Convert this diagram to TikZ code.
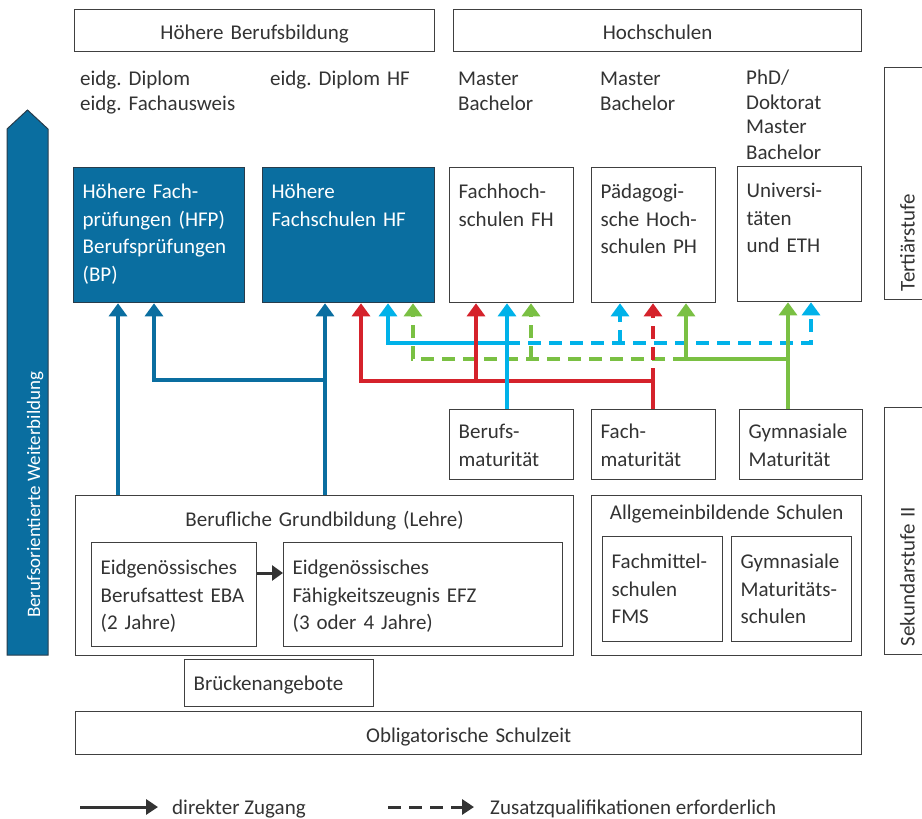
\documentclass[tikz,border=0pt]{standalone}
\usepackage{fontspec}
\setmainfont{Carlito}
\usepackage{xcolor}
\usetikzlibrary{arrows.meta,positioning}

\definecolor{sbfiblue}{RGB}{10,110,160}
\definecolor{sbfidark}{RGB}{40,60,75}
\definecolor{accred}{RGB}{213,34,43}
\definecolor{acccyan}{RGB}{0,178,233}
\definecolor{accgreen}{RGB}{122,192,67}
\definecolor{frame}{RGB}{64,64,64}
\definecolor{ink}{RGB}{51,51,51}

\newcommand{\boxfont}{\fontsize{21pt}{27.5pt}\selectfont}
\newcommand{\labfont}{\fontsize{21pt}{25pt}\selectfont}
\frenchspacing

\begin{document}
\begin{tikzpicture}[
  x=1pt, y=-1pt,
  box/.style = {draw=frame, line width=1.3pt, anchor=north west, align=left,
    inner xsep=9pt, inner ysep=0pt, text=ink, font=\boxfont},
  darkbox/.style = {box, fill=sbfiblue, draw=sbfidark, text=white},
  headbox/.style = {box, align=center},
  stufe/.style = {box, rotate=90, inner xsep=8pt, text height=30pt, text depth=21pt},
  lab/.style = {anchor=base west, align=left, inner sep=0pt, text=ink,
    font=\labfont, text width=170pt},
  zug/.style = {line width=3.3pt, -{Triangle[length=13pt, width=18pt]}},
  zq/.style = {dash pattern=on 13pt off 8pt},
  legarr/.style = {line width=3pt, ink, -{Triangle[length=12pt, width=15pt]}},
]
\useasboundingbox (0,0) rectangle (922,819);
\clip (0,0) rectangle (922,819);

\draw[draw=sbfidark, fill=sbfiblue, line width=1pt]
  (7,655) -- (7,129) -- (27.5,110) -- (48,129) -- (48,655) -- cycle;
\node[rotate=90, anchor=base west, inner sep=0pt, text=white, font=\fontsize{19pt}{23pt}\selectfont]
  (weiter) at (40,618) {Berufsorientierte Weiterbildung};

\node[headbox, text width=342pt, text height=30pt, text depth=12pt] (hbb) at (74,9) {Höhere Berufsbildung};
\node[headbox, text width=390pt, text height=30pt, text depth=12pt] (hs) at (453,9) {Hochschulen};

\node[lab] (lhfp) at (80,85) {eidg. Diplom\\eidg. Fachausweis};
\node[lab] (lhf) at (270,85) {eidg. Diplom HF};
\node[lab] (lfh) at (458,85) {Master\\Bachelor};
\node[lab] (lph) at (600,85) {Master\\Bachelor};
\node[lab] (luni) at (746,84) {PhD/\\Doktorat\\Master\\Bachelor};

\node[darkbox, text width=153pt, text height=31pt, text depth=104pt] (hfp) at (73,167)
  {Höhere Fach-\\prüfungen (HFP)\\Berufsprüfungen\\(BP)};
\node[darkbox, text width=154pt, text height=31pt, text depth=104pt] (hf) at (262,167)
  {Höhere\\Fachschulen HF};
\node[box, text width=106pt, text height=31pt, text depth=104pt] (fh) at (449,167)
  {Fachhoch-\\schulen FH};
\node[box, text width=106pt, text height=31pt, text depth=104pt] (ph) at (591,167)
  {Pädagogi-\\sche Hoch-\\schulen PH};
\node[box, text width=106pt, text height=31pt, text depth=104pt] (uni) at (737,166)
  {Universi-\\täten\\und ETH};

\node[stufe, text width=216pt] (ter) at (884,300) {Tertiärstufe};
\node[stufe, text width=231pt] (sek) at (884,655) {Sekundarstufe II};

\node[box, text width=106pt, text height=29pt, text depth=41pt] (bm) at (449,409) {Berufs-\\maturität};
\node[box, text width=106pt, text height=29pt, text depth=41pt] (fm) at (591,409) {Fach-\\maturität};
\node[box, text width=105pt, text height=29pt, text depth=41pt] (gm) at (739,409) {Gymnasiale\\Maturität};

\node[headbox, text width=480pt, text height=31pt, text depth=129pt] (gb) at (75,495)
  {Berufliche Grundbildung (Lehre)};
\node[box, text width=147pt, text height=32pt, text depth=72pt] (eba) at (91,542)
  {Eidgenössisches\\Berufsattest EBA\\(2 Jahre)};
\node[box, text width=261pt, text height=32pt, text depth=72pt] (efz) at (283,542)
  {Eidgenössisches\\Fähigkeitszeugnis EFZ\\(3 oder 4 Jahre)};

\node[headbox, text width=252pt, text height=24pt, text depth=136pt] (ags) at (591,495)
  {Allgemeinbildende Schulen};
\node[box, text width=102pt, text height=32pt, text depth=73pt] (fms) at (602,536)
  {Fachmittel-\\schulen\\FMS};
\node[box, text width=102pt, text height=32pt, text depth=73pt] (gms) at (731,536)
  {Gymnasiale\\Maturitäts-\\schulen};

\node[box, text width=171pt, text height=31pt, text depth=16pt] (bru) at (184,659) {Brückenangebote};
\node[headbox, text width=768pt, text height=31pt, text depth=12pt] (obl) at (75,711) {Obligatorische Schulzeit};

\draw[line width=3pt, ink, -{Triangle[length=11pt, width=15pt]}] (eba.east |- 0,573) -- (efz.west |- 0,573);

\draw[zug, sbfiblue] (118,0 |- gb.north) -- (118,0 |- hfp.south);
\draw[zug, sbfiblue] (325,0 |- gb.north) -- (325,0 |- hf.south);
\draw[zug, sbfiblue] (325,380) -- (154,380) -- (154,0 |- hfp.south);

\draw[zug, zq, acccyan] (507,343) -- (811,343) -- (811,0 |- uni.south);
\draw[zug, zq, acccyan] (620,343) -- (620,0 |- ph.south);
\draw[zug, zq, accgreen] (686,359) -- (413,359) -- (413,0 |- hf.south);
\draw[zug, zq, accgreen] (531,359) -- (531,0 |- fh.south);
\draw[zug, zq, accred] (653,381) -- (653,0 |- ph.south);

\draw[zug, accgreen] (788,0 |- gm.north) -- (788,0 |- uni.south);
\draw[zug, accgreen] (788,359) -- (686,359) -- (686,0 |- ph.south);
\draw[zug, acccyan] (507,343) -- (388,343) -- (388,0 |- hf.south);
\draw[zug, accred] (653,0 |- fm.north) -- (653,381) -- (361,381) -- (361,0 |- hf.south);
\draw[zug, accred] (476,381) -- (476,0 |- fh.south);
\draw[zug, acccyan] (507,0 |- bm.north) -- (507,0 |- fh.south);

\coordinate (sol) at (80,807);
\coordinate (dsh) at (388,807);
\node[anchor=base west, inner sep=0pt, text=ink, font=\labfont] (leg1) at (172,814) {direkter Zugang};
\node[anchor=base west, inner sep=0pt, text=ink, font=\labfont] (leg2) at (490,814) {Zusatzqualifikationen erforderlich};
\draw[legarr, shorten >=14pt] (sol) -- (sol -| leg1.west);
\draw[legarr, zq, shorten >=16pt] (dsh) -- (dsh -| leg2.west);
\end{tikzpicture}
\end{document}
